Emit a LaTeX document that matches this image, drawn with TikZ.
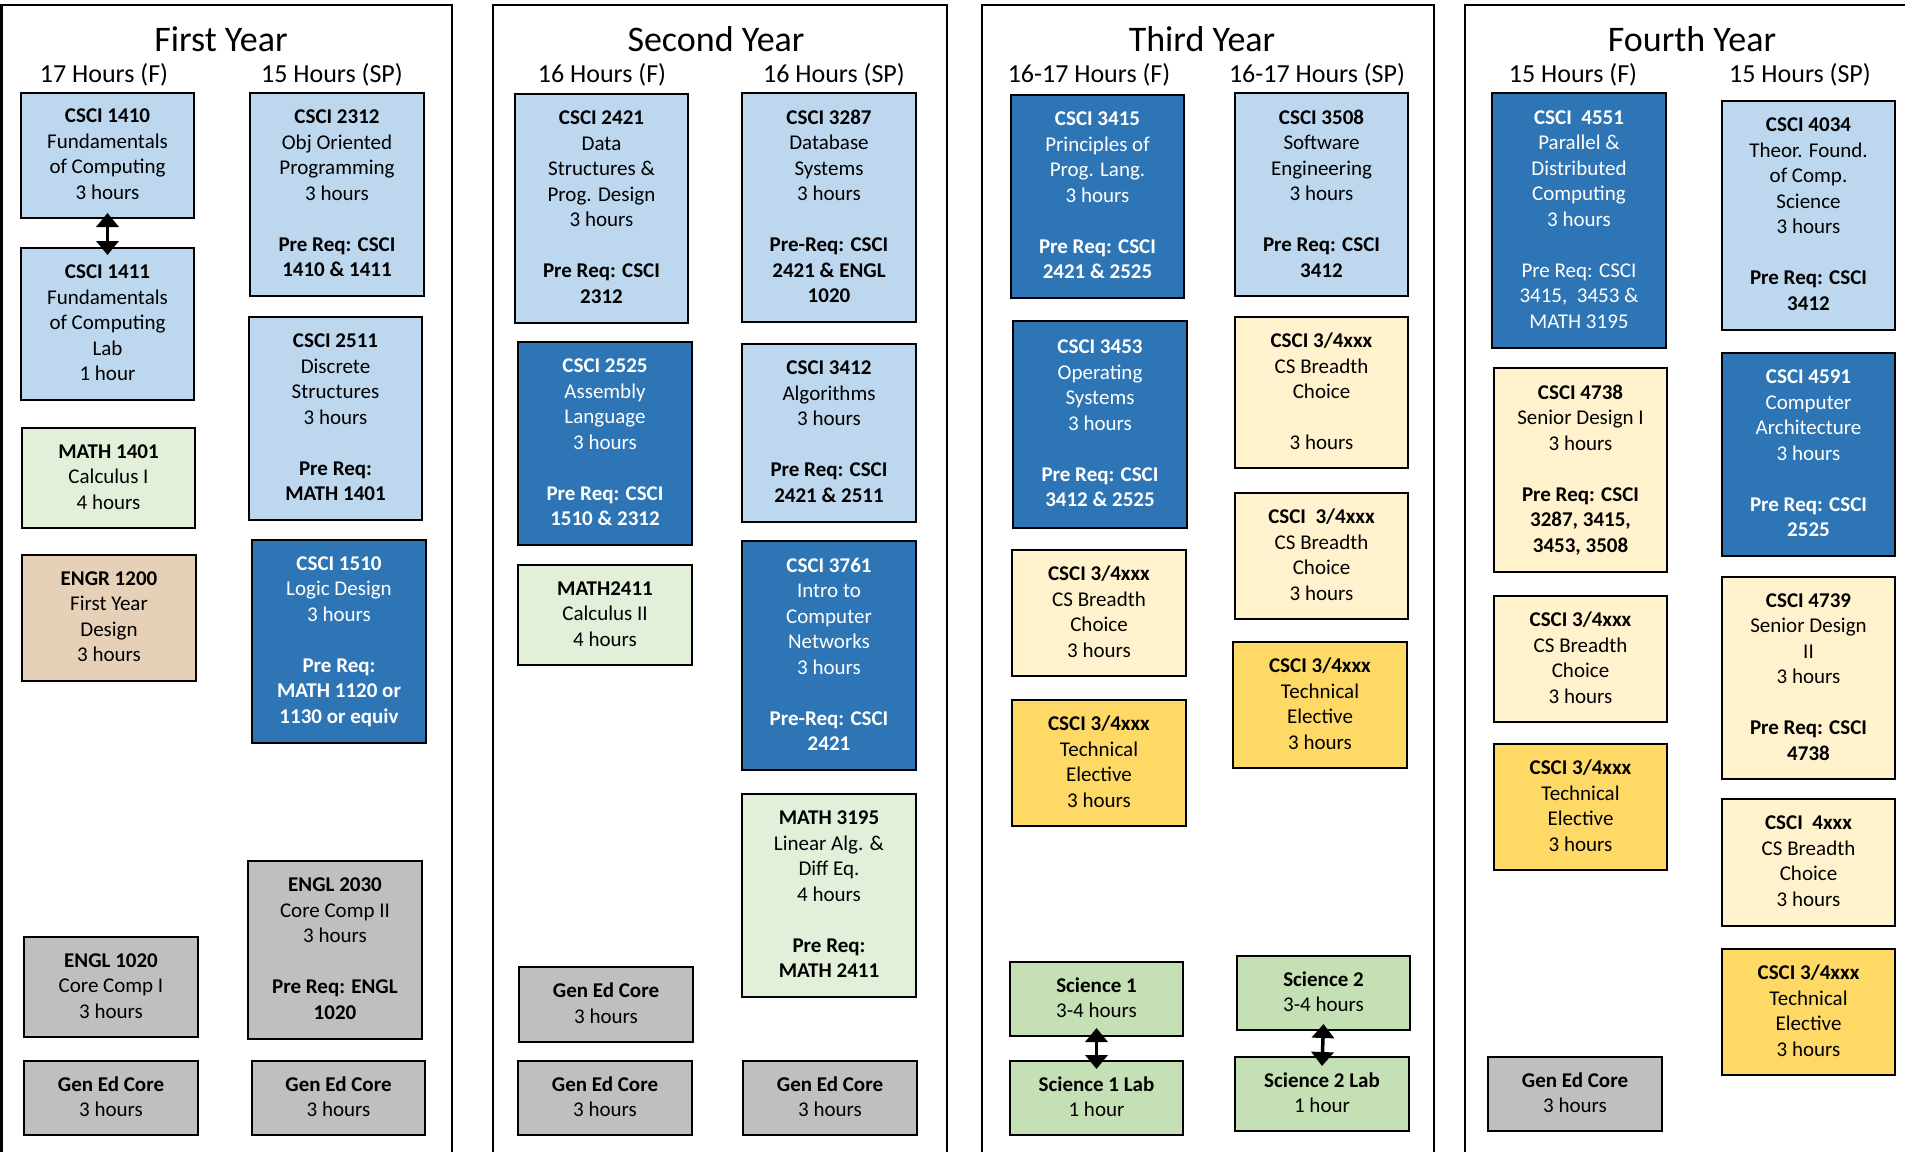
\documentclass[tikz,border=0pt]{standalone}
\usepackage{fontspec}
\setmainfont{Carlito}
\usetikzlibrary{arrows.meta}
\definecolor{lblue}{HTML}{BDD7EE}
\definecolor{dblue}{HTML}{2E75B6}
\definecolor{lgreen}{HTML}{E2F0D9}
\definecolor{sgreen}{HTML}{C5E0B4}
\definecolor{tanc}{HTML}{E7D0B8}
\definecolor{grayc}{HTML}{BFBFBF}
\definecolor{lyel}{HTML}{FFF2CC}
\definecolor{gold}{HTML}{FFD966}
\newcommand\sx{\rule[-2.5pt]{0pt}{25pt}}
\newcommand\crs[7]{\node[#6, minimum width={#4-#2}, minimum height={#5-#3}, anchor=north west] (#1) at (#2,#3) {#7};}
\newcommand\gap{\\[25.5pt]}
\tikzset{
  box/.style={draw=black, line width=1.6pt, align=center, inner sep=0pt, outer sep=0pt,
    font=\fontsize{21}{25.5}\selectfont, execute at begin node=\sx, execute at end node=\sx},
  lb/.style={box, fill=lblue},
  db/.style={box, fill=dblue, text=white},
  lg/.style={box, fill=lgreen},
  sg/.style={box, fill=sgreen},
  tn/.style={box, fill=tanc},
  gy/.style={box, fill=grayc},
  ly/.style={box, fill=lyel},
  gd/.style={box, fill=gold},
  panel/.style={draw=black, line width=2.5pt},
  yeartitle/.style={anchor=base, inner sep=0pt, font=\fontsize{36}{40}\selectfont},
  semtitle/.style={anchor=base, inner sep=0pt, font=\fontsize{26}{30}\selectfont},
  dbl/.style={{Triangle[width=22pt,length=14pt]}-{Triangle[width=22pt,length=14pt]}, line width=3.5pt}
}
\begin{document}
\begin{tikzpicture}[x=1pt,y=-1pt]
\useasboundingbox (0,0) rectangle (1905,1151);
\fill[white] (0,0) rectangle (1905,1151);
% panels
\draw[panel] (1.5,5) rectangle (452,1165);
\draw[panel] (493,5) rectangle (947,1165);
\draw[panel] (982,5) rectangle (1434,1165);
\draw[panel] (1465,5) rectangle (1915,1165);
% titles
\node[yeartitle] (t1) at (221,51) {First Year};
\node[semtitle] (t1f) at (104,82) {17 Hours (F)};
\node[semtitle] (t1s) at (332,82) {15 Hours (SP)};
\node[yeartitle] (t2) at (716,51) {Second Year};
\node[semtitle] (t2f) at (602,82) {16 Hours (F)};
\node[semtitle] (t2s) at (834,82) {16 Hours (SP)};
\node[yeartitle] (t3) at (1202,51) {Third Year};
\node[semtitle] (t3f) at (1089,82) {16-17 Hours (F)};
\node[semtitle] (t3s) at (1317,82) {16-17 Hours (SP)};
\node[yeartitle] (t4) at (1692,51) {Fourth Year};
\node[semtitle] (t4f) at (1573,82) {15 Hours (F)};
\node[semtitle] (t4s) at (1800,82) {15 Hours (SP)};
% First year, fall
\crs{c1410}{21}{93}{194}{218}{lb}{\textbf{CSCI 1410}\\Fundamentals\\of Computing\\3 hours}
\crs{c1411}{21}{248}{194}{400}{lb}{\textbf{CSCI 1411}\\Fundamentals\\of Computing\\Lab\\1 hour}
\crs{m1401}{22}{428}{195}{528}{lg}{\textbf{MATH 1401}\\Calculus I\\4 hours}
\crs{e1200}{22}{555}{196}{681}{tn}{\textbf{ENGR 1200}\\First Year\\Design\\3 hours}
\crs{e1020}{24}{937}{198}{1037}{gy}{\textbf{ENGL 1020}\\Core Comp I\\3 hours}
\crs{g1a}{24}{1061}{198}{1135}{gy}{\textbf{Gen Ed Core}\\3 hours}
% First year, spring
\crs{c2312}{250}{93}{424}{296}{lb}{\textbf{CSCI 2312}\\Obj Oriented\\Programming\\3 hours\gap\textbf{Pre Req: CSCI}\\\textbf{1410 \& 1411}}
\crs{c2511}{249}{317}{422}{520}{lb}{\textbf{CSCI 2511}\\Discrete\\Structures\\3 hours\gap\textbf{Pre Req:}\\\textbf{MATH 1401}}
\crs{c1510}{252}{540}{426}{743}{db}{\textbf{CSCI 1510}\\Logic Design\\3 hours\gap\textbf{Pre Req:}\\\textbf{MATH 1120 or}\\\textbf{1130 or equiv}}
\crs{e2030}{248}{861}{422}{1039}{gy}{\textbf{ENGL 2030}\\Core Comp II\\3 hours\gap\textbf{Pre Req: ENGL}\\\textbf{1020}}
\crs{g1b}{252}{1061}{425}{1135}{gy}{\textbf{Gen Ed Core}\\3 hours}
% Second year, fall
\crs{c2421}{515}{94}{688}{323}{lb}{\textbf{CSCI 2421}\\Data\\Structures \&\\Prog. Design\\3 hours\gap\textbf{Pre Req: CSCI}\\\textbf{2312}}
\crs{c2525}{518}{342}{692}{545}{db}{\textbf{CSCI 2525}\\Assembly\\Language\\3 hours\gap\textbf{Pre Req: CSCI}\\\textbf{1510 \& 2312}}
\crs{m2411}{518}{565}{692}{665}{lg}{\textbf{MATH2411}\\Calculus II\\4 hours}
\crs{g2a}{519}{967}{693}{1042}{gy}{\textbf{Gen Ed Core}\\3 hours}
\crs{g2b}{518}{1061}{692}{1135}{gy}{\textbf{Gen Ed Core}\\3 hours}
% Second year, spring
\crs{c3287}{742}{93}{916}{322}{lb}{\textbf{CSCI 3287}\\Database\\Systems\\3 hours\gap\textbf{Pre-Req: CSCI}\\\textbf{2421 \& ENGL}\\\textbf{1020}}
\crs{c3412}{742}{344}{916}{522}{lb}{\textbf{CSCI 3412}\\Algorithms\\3 hours\gap\textbf{Pre Req: CSCI}\\\textbf{2421 \& 2511}}
\crs{c3761}{742}{541}{916}{770}{db}{\textbf{CSCI 3761}\\Intro to\\Computer\\Networks\\3 hours\gap\textbf{Pre-Req: CSCI}\\\textbf{2421}}
\crs{m3195}{742}{794}{916}{997}{lg}{\textbf{MATH 3195}\\Linear Alg. \&\\Diff Eq.\\4 hours\gap\textbf{Pre Req:}\\\textbf{MATH 2411}}
\crs{g2c}{743}{1061}{917}{1135}{gy}{\textbf{Gen Ed Core}\\3 hours}
% Third year, fall
\crs{c3415}{1011}{95}{1184}{298}{db}{\textbf{CSCI 3415}\\Principles of\\Prog. Lang.\\3 hours\gap\textbf{Pre Req: CSCI}\\\textbf{2421 \& 2525}}
\crs{c3453}{1013}{321}{1187}{528}{db}{\textbf{CSCI 3453}\\Operating\\Systems\\3 hours\gap\textbf{Pre Req: CSCI}\\\textbf{3412 \& 2525}}
\crs{b3a}{1012}{550}{1186}{676}{ly}{\textbf{CSCI 3/4xxx}\\CS Breadth\\Choice\\3 hours}
\crs{t3a}{1012}{700}{1186}{826}{gd}{\textbf{CSCI 3/4xxx}\\Technical\\Elective\\3 hours}
\crs{s1}{1010}{962}{1183}{1036}{sg}{\textbf{Science 1}\\3-4 hours}
\crs{s1l}{1010}{1061}{1183}{1135}{sg}{\textbf{Science 1 Lab}\\1 hour}
% Third year, spring
\crs{c3508}{1235}{93}{1408}{296}{lb}{\textbf{CSCI 3508}\\Software\\Engineering\\3 hours\gap\textbf{Pre Req: CSCI}\\\textbf{3412}}
\crs{b3b}{1235}{317}{1408}{468}{ly}{\textbf{CSCI 3/4xxx}\\CS Breadth\\Choice\gap3 hours}
\crs{b3c}{1235}{493}{1408}{619}{ly}{\textbf{CSCI\ \ 3/4xxx}\\CS Breadth\\Choice\\3 hours}
\crs{t3b}{1233}{642}{1407}{768}{gd}{\textbf{CSCI 3/4xxx}\\Technical\\Elective\\3 hours}
\crs{s2}{1237}{956}{1410}{1030}{sg}{\textbf{Science 2}\\3-4 hours}
\crs{s2l}{1235}{1057}{1409}{1131}{sg}{\textbf{Science 2 Lab}\\1 hour}
% Fourth year, fall
\crs{c4551}{1492}{93}{1666}{348}{db}{\textbf{CSCI\ \ 4551}\\Parallel \&\\Distributed\\Computing\\3 hours\gap Pre Req: CSCI\\3415,\ \ 3453 \&\\MATH 3195}
\crs{c4738}{1494}{368}{1667}{572}{ly}{\textbf{CSCI 4738}\\Senior Design I\\3 hours\gap\textbf{Pre Req: CSCI}\\\textbf{3287, 3415,}\\\textbf{3453, 3508}}
\crs{b4a}{1494}{596}{1667}{722}{ly}{\textbf{CSCI 3/4xxx}\\CS Breadth\\Choice\\3 hours}
\crs{t4a}{1494}{744}{1667}{870}{gd}{\textbf{CSCI 3/4xxx}\\Technical\\Elective\\3 hours}
\crs{g4}{1488}{1057}{1662}{1131}{gy}{\textbf{Gen Ed Core}\\3 hours}
% Fourth year, spring
\crs{c4034}{1722}{101}{1895}{330}{lb}{\textbf{CSCI 4034}\\Theor. Found.\\of Comp.\\Science\\3 hours\gap\textbf{Pre Req: CSCI}\\\textbf{3412}}
\crs{c4591}{1722}{353}{1895}{556}{db}{\textbf{CSCI 4591}\\Computer\\Architecture\\3 hours\gap\textbf{Pre Req: CSCI}\\\textbf{2525}}
\crs{c4739}{1722}{577}{1895}{779}{ly}{\textbf{CSCI 4739}\\Senior Design\\II\\3 hours\gap\textbf{Pre Req: CSCI}\\\textbf{4738}}
\crs{b4b}{1722}{799}{1895}{926}{ly}{\textbf{CSCI\ \ 4xxx}\\CS Breadth\\Choice\\3 hours}
\crs{t4b}{1722}{949}{1895}{1075}{gd}{\textbf{CSCI 3/4xxx}\\Technical\\Elective\\3 hours}
% co-requisite arrows
\draw[dbl] ([yshift=5pt]c1410.south) -- ([yshift=-7pt]c1411.north);
\draw[dbl] ([yshift=8pt]s1.south) -- ([yshift=-8pt]s1l.north);
\draw[dbl] ([yshift=6pt]s2.south) -- ([yshift=-9pt]s2l.north);
\end{tikzpicture}
\end{document}
